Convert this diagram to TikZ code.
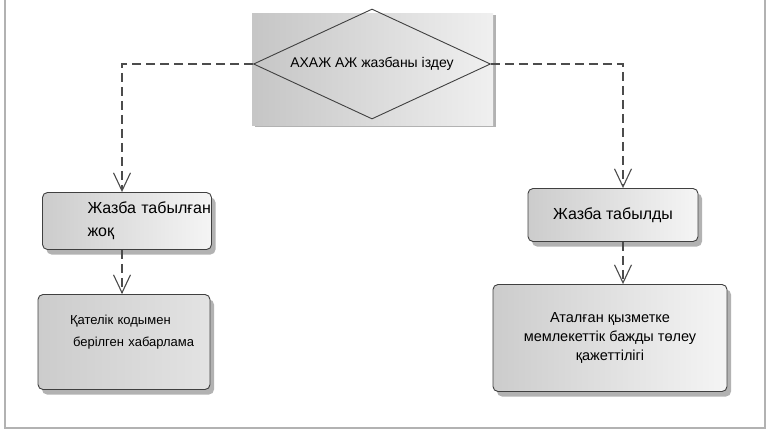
\documentclass[tikz,border=0pt]{standalone}
\usepackage{fontspec}
\setmainfont{Liberation Sans}
\usetikzlibrary{shapes.geometric,arrows.meta,shadows}

\begin{document}
\begin{tikzpicture}[x=1pt,y=-1pt,
  flow/.style={draw=gray!60!black, line width=1.1pt, dash pattern=on 9pt off 5pt,
    -{Straight Barb[length=18pt,width=17pt]}},
  stepbox/.style={draw=gray!50!black, line width=0.9pt, rounded corners=5pt,
    left color=gray!40, right color=gray!8,
    drop shadow={shadow xshift=4pt, shadow yshift=-5pt, fill=gray!60, opacity=1}}]
\useasboundingbox (0,0) rectangle (767,434);
\draw[gray!60, line width=2pt] (5,0) -- (5,428) -- (765,428) -- (765,0);
\node (searchbg) at (372.5,69) [minimum width=241pt, minimum height=112pt, inner sep=0pt,
  left color=gray!45, right color=gray!12,
  drop shadow={shadow xshift=3pt, shadow yshift=-2pt, fill=gray!60, opacity=1}] {};
\node (search) at (372,64) [diamond, aspect=2.2, draw=gray!50!black, line width=0.9pt,
  minimum width=237pt, minimum height=110pt, inner sep=0pt,
  font=\fontsize{14}{17}\selectfont] {АХАЖ АЖ жазбаны іздеу};
\node (nf) at (127,221) [stepbox, minimum width=169pt, minimum height=57pt,
  text width=161pt, inner xsep=4pt, align=left,
  font=\fontsize{16}{23}\selectfont] {\hspace*{41pt}\mbox{Жазба табылған}\\\hspace*{41pt}жоқ};
\node (err) at (124,342) [stepbox, left color=gray!40, right color=gray!22,
  minimum width=172pt, minimum height=95pt, text width=164pt, inner xsep=4pt, align=left,
  font=\fontsize{13}{22}\selectfont] {\hspace*{28pt}Қателік кодымен\\\hspace*{31pt}берілген хабарлама\\~};
\node (found) at (613,215) [stepbox, minimum width=170pt, minimum height=53pt,
  font=\fontsize{16}{19}\selectfont] {Жазба табылды};
\node (fee) at (610,338) [stepbox, minimum width=234pt, minimum height=107pt, align=center,
  font=\fontsize{14.5}{19}\selectfont] {Аталған қызметке\\мемлекеттік бажды төлеу\\қажеттілігі};
\draw[flow] (search.west) -| ([xshift=-5pt]nf.north);
\draw[flow] (search.east) -| ([xshift=10pt]found.north);
\draw[flow] ([xshift=-5pt]nf.south) -- ([xshift=-5pt]nf.south |- err.north);
\draw[flow] ([xshift=10pt]found.south) -- ([xshift=10pt]found.south |- fee.north);
\end{tikzpicture}
\end{document}
